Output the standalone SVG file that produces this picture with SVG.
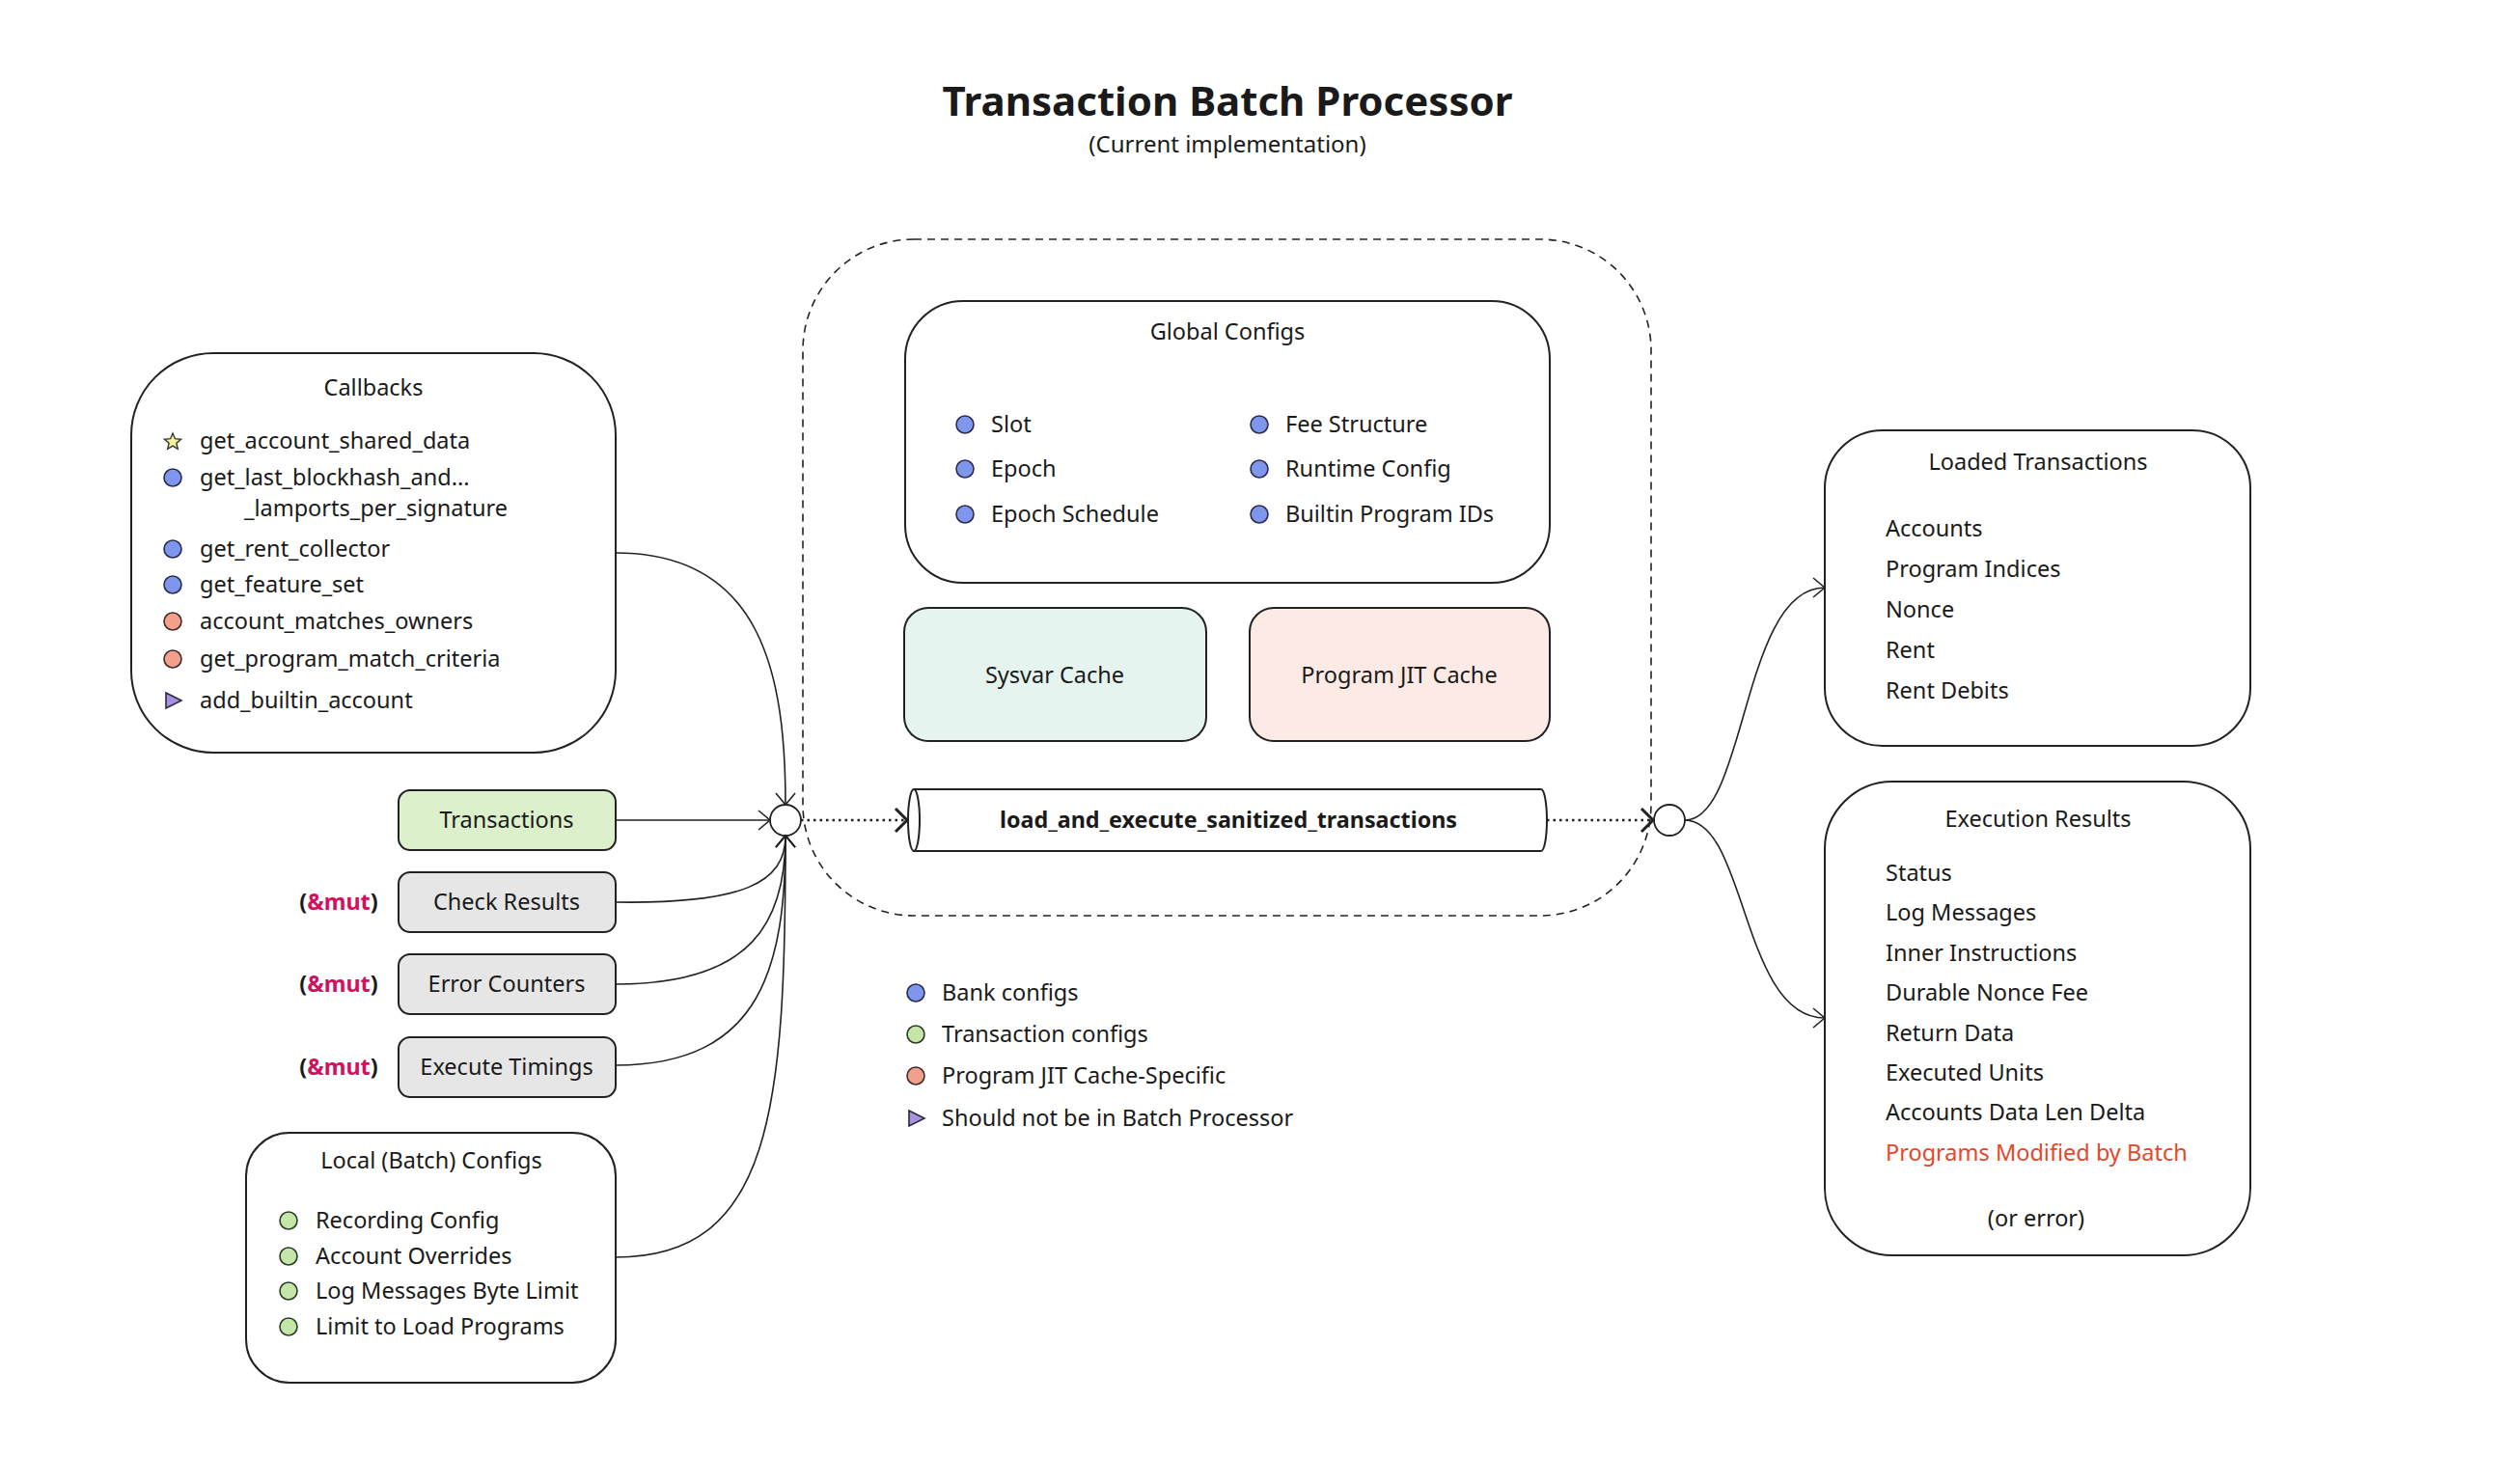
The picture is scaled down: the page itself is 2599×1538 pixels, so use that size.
<svg xmlns="http://www.w3.org/2000/svg" width="2599" height="1538" viewBox="0 0 2599 1538">
<defs>
<style>
text{font-family:"Noto Sans","Open Sans","Liberation Sans",sans-serif;font-size:23.5px;fill:#1a1a1a}
.t{font-weight:700;font-size:42px}
.sub{font-size:24px}
.c{text-anchor:middle}
.b{font-weight:700;font-size:23.3px}
.box{fill:#fff;stroke:#222;stroke-width:2}
.conn{fill:none;stroke:#222;stroke-width:1.6}
.dot{fill:none;stroke:#222;stroke-width:2.6;stroke-dasharray:2.5 4}
.blue{fill:#7f96ef;stroke:#2a2a4a;stroke-width:1.6}
.green{fill:#c5e6a6;stroke:#2a3a2a;stroke-width:1.6}
.sal{fill:#f2a08c;stroke:#3a2a2a;stroke-width:1.6}
.pur{fill:#a890e2;stroke:#2a2a3a;stroke-width:1.6}
.mut{fill:#d4105e;font-weight:700}
.red{fill:#e2482c}
</style>
<marker id="ah" markerWidth="16" markerHeight="24" refX="14" refY="12" orient="auto" markerUnits="userSpaceOnUse">
<path d="M2,2 L14,12 L2,22" fill="none" stroke="#222" stroke-width="1.6"/>
</marker>
<marker id="ahb" markerWidth="18" markerHeight="28" refX="15" refY="14" orient="auto" markerUnits="userSpaceOnUse">
<path d="M3,2 L15,14 L3,26" fill="none" stroke="#222" stroke-width="3"/>
</marker>
</defs>
<rect width="2599" height="1538" fill="#fff"/>

<g id="title">
<text class="t c" x="1272" y="120">Transaction Batch Processor</text>
<text class="sub c" x="1272" y="158">(Current implementation)</text>
</g>

<g id="batch-processor">
<rect x="832" y="248" width="879" height="701" rx="115" ry="115" fill="none" stroke="#222" stroke-width="1.6" stroke-dasharray="8 6"/>
</g>

<g id="global-configs">
<rect class="box" x="938" y="312" width="668" height="292" rx="60"/>
<text class="c" x="1272" y="352">Global Configs</text>
<circle class="blue" cx="1000" cy="440" r="9"/>
<circle class="blue" cx="1000" cy="486" r="9"/>
<circle class="blue" cx="1000" cy="533" r="9"/>
<text x="1027" y="448">Slot</text>
<text x="1027" y="494">Epoch</text>
<text x="1027" y="541">Epoch Schedule</text>
<circle class="blue" cx="1305" cy="440" r="9"/>
<circle class="blue" cx="1305" cy="486" r="9"/>
<circle class="blue" cx="1305" cy="533" r="9"/>
<text x="1332" y="448">Fee Structure</text>
<text x="1332" y="494">Runtime Config</text>
<text x="1332" y="541">Builtin Program IDs</text>
</g>

<g id="sysvar-cache">
<rect x="937" y="630" width="313" height="138" rx="25" fill="#e6f4f0" stroke="#222" stroke-width="2"/>
<text class="c" x="1093" y="708">Sysvar Cache</text>
</g>

<g id="program-jit-cache">
<rect x="1295" y="630" width="311" height="138" rx="25" fill="#fdeae5" stroke="#222" stroke-width="2"/>
<text class="c" x="1450" y="708">Program JIT Cache</text>
</g>

<g id="load-and-execute">
<path d="M947,818 L1597,818 A6,32 0 0 1 1597,882 L947,882 Z" fill="#fff" stroke="#222" stroke-width="2"/>
<ellipse cx="947" cy="850" rx="6" ry="32" fill="#fff" stroke="#222" stroke-width="2"/>
<text class="c b" x="1273" y="858">load_and_execute_sanitized_transactions</text>
</g>

<g id="callbacks">
<rect class="box" x="136" y="366" width="502" height="414" rx="85"/>
<text class="c" x="387" y="410">Callbacks</text>
<polygon points="179,449 181.4,454.7 187.6,455.2 182.9,459.3 184.3,465.3 179,462.1 173.7,465.3 175.1,459.3 170.4,455.2 176.6,454.7" fill="#f6f29c" stroke="#333" stroke-width="1.4"/>
<text x="207" y="465">get_account_shared_data</text>
<circle class="blue" cx="179" cy="495" r="9"/>
<text x="207" y="503">get_last_blockhash_and...</text>
<text x="253" y="535">_lamports_per_signature</text>
<circle class="blue" cx="179" cy="569" r="9"/>
<text x="207" y="577">get_rent_collector</text>
<circle class="blue" cx="179" cy="606" r="9"/>
<text x="207" y="614">get_feature_set</text>
<circle class="sal" cx="179" cy="644" r="9"/>
<text x="207" y="652">account_matches_owners</text>
<circle class="sal" cx="179" cy="683" r="9"/>
<text x="207" y="691">get_program_match_criteria</text>
<polygon class="pur" points="172,718 188,726 172,734"/>
<text x="207" y="734">add_builtin_account</text>
</g>

<g id="transactions">
<rect x="413" y="819" width="225" height="62" rx="12" fill="#dcf0cb" stroke="#222" stroke-width="2"/>
<text class="c" x="525" y="858">Transactions</text>
</g>

<g id="check-results">
<rect x="413" y="904" width="225" height="62" rx="12" fill="#e6e6e6" stroke="#222" stroke-width="2"/>
<text class="c" x="525" y="943">Check Results</text>
<text class="c b" x="351" y="943">(<tspan class="mut">&amp;mut</tspan>)</text>
</g>

<g id="error-counters">
<rect x="413" y="989" width="225" height="62" rx="12" fill="#e6e6e6" stroke="#222" stroke-width="2"/>
<text class="c" x="525" y="1028">Error Counters</text>
<text class="c b" x="351" y="1028">(<tspan class="mut">&amp;mut</tspan>)</text>
</g>

<g id="execute-timings">
<rect x="413" y="1075" width="225" height="62" rx="12" fill="#e6e6e6" stroke="#222" stroke-width="2"/>
<text class="c" x="525" y="1114">Execute Timings</text>
<text class="c b" x="351" y="1114">(<tspan class="mut">&amp;mut</tspan>)</text>
</g>

<g id="local-configs">
<rect class="box" x="255" y="1174" width="383" height="259" rx="45"/>
<text class="c" x="447" y="1211">Local (Batch) Configs</text>
<circle class="green" cx="299" cy="1265" r="9"/>
<circle class="green" cx="299" cy="1302" r="9"/>
<circle class="green" cx="299" cy="1338" r="9"/>
<circle class="green" cx="299" cy="1375" r="9"/>
<text x="327" y="1273">Recording Config</text>
<text x="327" y="1310">Account Overrides</text>
<text x="327" y="1346">Log Messages Byte Limit</text>
<text x="327" y="1383">Limit to Load Programs</text>
</g>

<g id="input-junction">
<circle cx="814" cy="850" r="16" fill="#fff" stroke="#222" stroke-width="1.8"/>
</g>
<g id="output-junction">
<circle cx="1730" cy="850" r="16" fill="#fff" stroke="#222" stroke-width="1.8"/>
</g>

<g id="legend">
<circle class="blue" cx="949" cy="1029" r="9"/>
<text x="976" y="1037">Bank configs</text>
<circle class="green" cx="949" cy="1072" r="9"/>
<text x="976" y="1080">Transaction configs</text>
<circle class="sal" cx="949" cy="1115" r="9"/>
<text x="976" y="1123">Program JIT Cache-Specific</text>
<polygon class="pur" points="942,1151 958,1159 942,1167"/>
<text x="976" y="1167">Should not be in Batch Processor</text>
</g>

<g id="loaded-transactions">
<rect class="box" x="1891" y="446" width="441" height="327" rx="60"/>
<text class="c" x="2112" y="487">Loaded Transactions</text>
<text x="1954" y="556">Accounts</text>
<text x="1954" y="598">Program Indices</text>
<text x="1954" y="640">Nonce</text>
<text x="1954" y="682">Rent</text>
<text x="1954" y="724">Rent Debits</text>
</g>

<g id="execution-results">
<rect class="box" x="1891" y="810" width="441" height="491" rx="70"/>
<text class="c" x="2112" y="857">Execution Results</text>
<text x="1954" y="913">Status</text>
<text x="1954" y="954">Log Messages</text>
<text x="1954" y="996">Inner Instructions</text>
<text x="1954" y="1037">Durable Nonce Fee</text>
<text x="1954" y="1079">Return Data</text>
<text x="1954" y="1120">Executed Units</text>
<text x="1954" y="1161">Accounts Data Len Delta</text>
<text class="red" x="1954" y="1203">Programs Modified by Batch</text>
<text class="c" x="2110" y="1271">(or error)</text>
</g>

<g id="connectors">
<path class="conn" d="M638,573 C790,573 814,700 814,834" marker-end="url(#ah)"/>
<path class="conn" d="M638,850 L798,850" marker-end="url(#ah)"/>
<path class="conn" d="M638,935 C770,937 814,915 814,866" marker-end="url(#ah)"/>
<path class="conn" d="M638,1020 C780,1020 814,955 814,866" marker-end="url(#ah)"/>
<path class="conn" d="M638,1104 C790,1104 814,1000 814,866" marker-end="url(#ah)"/>
<path class="conn" d="M638,1303 C800,1303 814,1150 814,866" marker-end="url(#ah)"/>
<path class="dot" d="M830,850 L940,850" marker-end="url(#ahb)"/>
<path class="dot" d="M1603,850 L1713,850" marker-end="url(#ahb)"/>
<path class="conn" d="M1746,850 C1810,850 1805,609 1891,609" marker-end="url(#ah)"/>
<path class="conn" d="M1746,850 C1810,850 1805,1055 1891,1055" marker-end="url(#ah)"/>
</g>
</svg>
